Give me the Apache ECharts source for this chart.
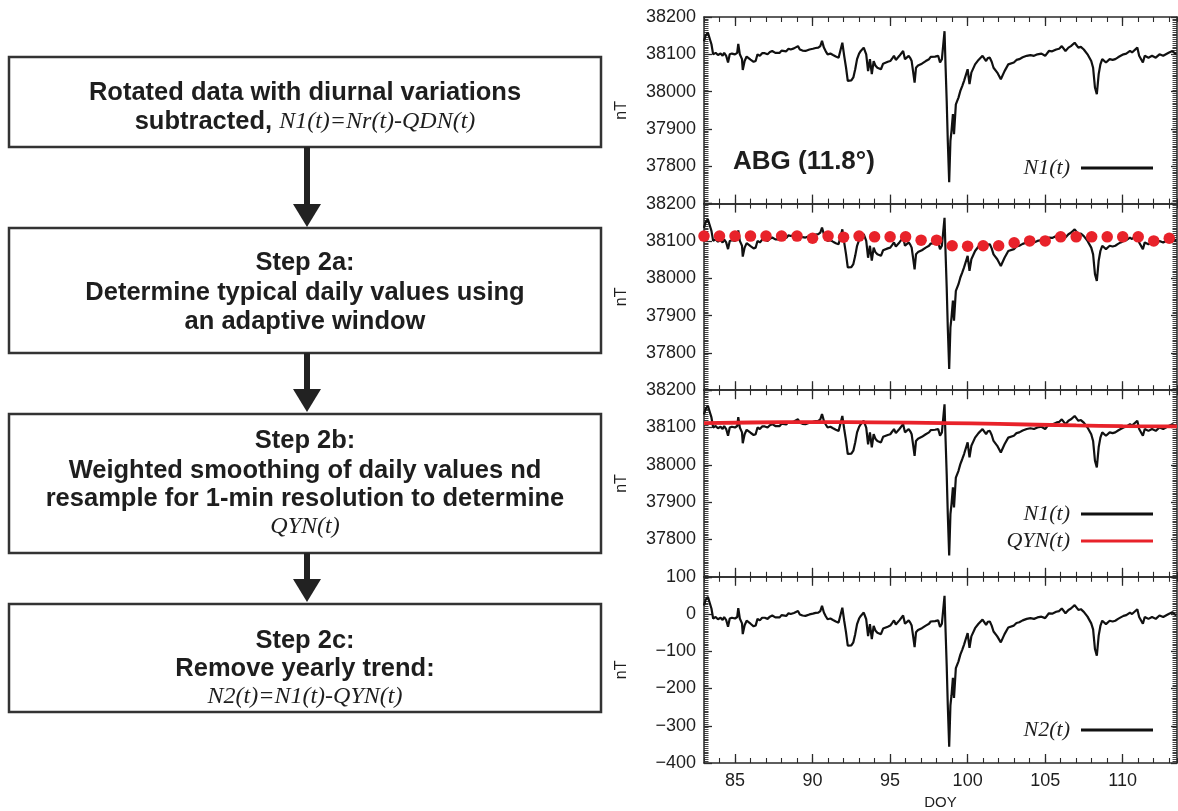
<!DOCTYPE html>
<html><head><meta charset="utf-8">
<script src="https://cdn.jsdelivr.net/npm/echarts@6/dist/echarts.min.js"></script>
<style>html,body{margin:0;padding:0;background:#fff}#c{width:1178px;height:811px}</style>
</head><body><div id="c"></div><script>
// ---------- data ----------
const doy = [83.00,83.10,83.17,83.25,83.36,83.48,83.59,83.75,83.90,84.07,84.20,84.30,84.43,84.55,84.66,84.80,85.00,85.14,85.21,85.31,85.45,85.50,85.62,85.75,85.85,86.00,86.09,86.20,86.33,86.45,86.60,86.75,86.92,87.10,87.25,87.40,87.60,87.88,88.00,88.11,88.30,88.45,88.59,88.80,89.06,89.18,89.35,89.54,89.80,90.02,90.20,90.37,90.50,90.61,90.73,90.85,90.97,91.15,91.32,91.50,91.68,91.80,91.92,92.04,92.16,92.27,92.39,92.50,92.63,92.75,92.87,93.00,93.11,93.30,93.46,93.58,93.70,93.82,93.94,94.05,94.18,94.30,94.41,94.55,94.65,94.85,95.01,95.15,95.25,95.37,95.49,95.60,95.72,95.84,95.96,96.08,96.20,96.30,96.39,96.48,96.58,96.67,96.80,96.91,97.05,97.15,97.30,97.51,97.62,97.74,97.90,98.10,98.22,98.34,98.46,98.51,98.58,98.65,98.72,98.81,98.89,98.96,99.05,99.12,99.24,99.41,99.53,99.65,99.77,100.00,100.12,100.24,100.48,100.70,100.96,101.19,101.30,101.43,101.55,101.67,101.91,102.14,102.38,102.62,102.98,103.15,103.33,103.55,103.81,104.05,104.28,104.50,104.76,105.00,105.24,105.45,105.71,105.90,106.07,106.31,106.50,106.66,106.90,107.14,107.30,107.49,107.73,107.97,108.09,108.21,108.33,108.45,108.56,108.68,108.80,108.92,109.16,109.35,109.52,109.70,109.87,110.05,110.23,110.47,110.60,110.71,110.94,111.06,111.30,111.42,111.66,111.89,112.13,112.37,112.61,112.96,113.20,113.44];
const n1 = [38135,38150,38145,38158,38162,38127,38100,38104,38098,38102,38096,38104,38096,38078,38100,38102,38100,38104,38128,38100,38087,38058,38082,38094,38091,38086,38087,38080,38082,38100,38096,38103,38103,38100,38106,38109,38104,38104,38110,38112,38108,38115,38113,38116,38122,38113,38110,38109,38113,38115,38117,38118,38122,38136,38118,38108,38100,38102,38098,38094,38091,38087,38131,38096,38064,38029,38024,38030,38038,38060,38087,38102,38109,38118,38100,38055,38087,38047,38082,38070,38064,38068,38060,38075,38078,38080,38082,38090,38096,38085,38087,38096,38100,38109,38087,38092,38096,38090,38082,38055,38024,38064,38070,38073,38075,38078,38082,38087,38093,38096,38094,38096,38078,38087,38082,38162,38064,37975,37868,37757,37868,37895,37940,37886,37966,37984,38002,38015,38029,38060,38020,38051,38073,38085,38096,38082,38090,38091,38080,38064,38051,38033,38055,38073,38078,38085,38087,38092,38096,38098,38096,38100,38102,38096,38109,38108,38113,38115,38122,38109,38118,38122,38131,38118,38120,38113,38100,38082,38064,38011,37993,38047,38073,38087,38082,38078,38087,38085,38087,38092,38096,38100,38102,38109,38105,38102,38118,38096,38078,38096,38091,38096,38091,38100,38096,38104,38109,38100];
const n2 = [23,38,33,46,50,15,-12,-8,-14,-10,-16,-8,-16,-34,-12,-10,-12,-8,16,-12,-25,-54,-30,-18,-21,-26,-26,-33,-31,-13,-17,-10,-10,-13,-7,-4,-9,-9,-3,-1,-5,2,0,3,8,-1,-4,-5,-1,1,3,4,8,22,4,-6,-14,-12,-16,-20,-23,-27,17,-18,-50,-85,-90,-84,-76,-54,-27,-12,-5,4,-14,-59,-27,-67,-32,-44,-50,-46,-54,-39,-36,-34,-31,-23,-17,-28,-26,-17,-13,-4,-26,-21,-17,-23,-31,-58,-89,-49,-43,-40,-38,-35,-31,-26,-20,-17,-19,-17,-35,-26,-31,49,-49,-138,-245,-356,-245,-218,-171,-225,-145,-127,-109,-96,-82,-51,-91,-60,-38,-26,-15,-29,-21,-20,-31,-47,-60,-76,-54,-36,-31,-24,-22,-17,-13,-11,-13,-9,-7,-11,2,1,6,8,15,2,11,15,24,11,13,6,-7,-25,-41,-94,-112,-58,-32,-18,-23,-27,-18,-20,-18,-13,-9,-5,-3,4,0,-3,13,-8,-26,-8,-13,-8,-13,-4,-8,0,5,-4];
const dailyDoy = [83,84,85,86,87,88,89,90,91,92,93,94,95,96,97,98,99,100,101,102,103,104,105,106,107,108,109,110,111,112,113];
const dailyVal = [38113,38113,38113,38113,38113,38113,38113,38107,38113,38110,38113,38111,38111,38111,38102,38102,38087,38086,38087,38087,38095,38100,38100,38111,38111,38111,38111,38111,38111,38100,38107];
const qynDoy = [83,86,90.5,94,98.5,102,107,110,113.5];
const qynVal = [38112,38113.5,38114.5,38114,38112,38109.5,38105.5,38104,38103];
const xMajorTicks = [85,90,95,100,105,110];
const yRanges = [[37700,38200],[37700,38200],[37700,38200],[-400,100]];

// ---------- build ----------
const pairs = (xs, ys) => xs.map((x, i) => [x, ys[i]]);
const SANS = '"Liberation Sans", Arial, sans-serif';
const SERIF = '"Liberation Serif", "Times New Roman", serif';
const INK = '#1e1e1e';
const AX = '#2a2a2a';
const RED = '#e8222a';
const gridTops = [17, 203.6, 390.2, 576.8];
const gridH = 186.6;

const grid = gridTops.map(t => ({left: 704, right: 1, top: t, height: gridH}));
const xAxis = [];
gridTops.forEach((t, i) => {
  const last = i === 3;
  ['bottom', 'top'].forEach(pos => {
    xAxis.push({
      type: 'value', gridIndex: i, position: pos, min: 83, max: 113.5,
      axisLine: {show: true, onZero: false, lineStyle: {color: AX, width: 1.5}},
      axisTick: {show: true, inside: true, length: 9, customValues: xMajorTicks, lineStyle: {color: AX, width: 1.3}},
      axisLabel: {show: last && pos === 'bottom', customValues: xMajorTicks, margin: 9,
        fontFamily: SANS, fontSize: 18, color: INK},
      splitLine: {show: false},
      name: (last && pos === 'bottom') ? 'DOY' : '', nameLocation: 'middle', nameGap: 32,
      nameTextStyle: {fontFamily: SANS, fontSize: 15, color: INK}
    });
    xAxis.push({
      type: 'value', gridIndex: i, position: pos, min: 83, max: 113.5, interval: 1,
      axisLine: {show: false, onZero: false},
      axisTick: {show: true, inside: true, length: 5, lineStyle: {color: AX, width: 1.1}},
      axisLabel: {show: false}, splitLine: {show: false}
    });
  });
});
const yAxis = [];
yRanges.forEach((r, i) => {
  ['left', 'right'].forEach(pos => {
    yAxis.push({
      type: 'value', gridIndex: i, position: pos, min: r[0], max: r[1], interval: 100,
      axisLine: {show: true, onZero: false, lineStyle: {color: AX, width: 1.5}},
      axisTick: {show: true, inside: true, length: pos === 'left' ? 8 : 6, lineStyle: {color: AX, width: 1.3}},
      minorTick: {show: true, splitNumber: 20, length: 4.5, lineStyle: {color: AX, width: 0.9}},
      axisLabel: {show: pos === 'left', margin: 8, fontFamily: SANS, fontSize: 18, color: INK,
        formatter: v => (i < 3 && v === r[0]) ? '' : String(v).replace('-', '\u2212')},
      splitLine: {show: false},
      name: pos === 'left' ? 'nT' : '', nameLocation: 'middle', nameGap: 74,
      nameTextStyle: {fontFamily: SANS, fontSize: 16, color: INK}
    });
  });
});

const lineBase = {type: 'line', showSymbol: false, symbol: 'none', animation: false, sampling: false,
  lineStyle: {color: '#111', width: 2.2}, itemStyle: {color: '#111'}, z: 2};
const series = [
  Object.assign({}, lineBase, {name: 'N1(t)', xAxisIndex: 0, yAxisIndex: 0, data: pairs(doy, n1)}),
  Object.assign({}, lineBase, {name: 'N1(t)', xAxisIndex: 4, yAxisIndex: 2, data: pairs(doy, n1)}),
  {type: 'scatter', name: 'daily', xAxisIndex: 4, yAxisIndex: 2, data: pairs(dailyDoy, dailyVal),
    symbolSize: 11.5, itemStyle: {color: RED, opacity: 1}, animation: false, z: 3},
  Object.assign({}, lineBase, {name: 'N1(t)', xAxisIndex: 8, yAxisIndex: 4, data: pairs(doy, n1)}),
  {type: 'line', name: 'QYN(t)', xAxisIndex: 8, yAxisIndex: 4, data: pairs(qynDoy, qynVal), smooth: true,
    showSymbol: false, symbol: 'none', animation: false, lineStyle: {color: RED, width: 3.8}, itemStyle: {color: RED}, z: 3},
  Object.assign({}, lineBase, {name: 'N2(t)', xAxisIndex: 12, yAxisIndex: 6, data: pairs(doy, n2)})
];

const legBase = {orient: 'vertical', align: 'right', right: 25, padding: 0, icon: 'rect', itemWidth: 72, itemHeight: 3,
  itemGap: 5, selectedMode: false,
  textStyle: {fontFamily: SERIF, fontStyle: 'italic', fontSize: 22, color: INK, padding: [0, 6, 0, 0]}};
const legend = [
  Object.assign({}, legBase, {data: ['N1(t)'], top: 157}),
  Object.assign({}, legBase, {data: ['N1(t)', 'QYN(t)'], top: 503}),
  Object.assign({}, legBase, {data: ['N2(t)'], top: 719})
];

// flowchart
const BOLD = 'bold 25.5px ' + SANS;
const IT = 'italic 24px ' + SERIF;
function box(y, h) { return {type: 'rect', shape: {x: 9, y: y, width: 592, height: h},
  style: {fill: '#fff', stroke: '#333', lineWidth: 2.5}}; }
function arrow(y0, tip) { return [
  {type: 'line', shape: {x1: 307, y1: y0, x2: 307, y2: tip - 20}, style: {stroke: '#222', lineWidth: 6}},
  {type: 'polygon', shape: {points: [[293, tip - 23], [321, tip - 23], [307, tip]]}, style: {fill: '#222'}}]; }
function txt(y, s, font) { return {type: 'text', x: 305, y: y,
  style: {text: s, font: font || BOLD, fill: INK, align: 'center', verticalAlign: 'middle'}}; }
const graphic = [
  box(57, 90), box(228, 125), box(414, 139), box(604, 108),
  ...arrow(147, 227), ...arrow(353, 412), ...arrow(553, 602),
  txt(93, 'Rotated data with diurnal variations'),
  {type: 'text', x: 305, y: 122, style: {text: '{b|subtracted, }{i|N1(t)=Nr(t)-QDN(t)}',
    rich: {b: {font: BOLD, fill: INK}, i: {font: IT, fill: INK}}, align: 'center', verticalAlign: 'middle'}},
  txt(263, 'Step 2a:'), txt(293, 'Determine typical daily values using'), txt(322, 'an adaptive window'),
  txt(441, 'Step 2b:'), txt(471, 'Weighted smoothing of daily values nd'),
  txt(499, 'resample for 1-min resolution to determine'), txt(527, 'QYN(t)', IT),
  txt(641, 'Step 2c:'), txt(669, 'Remove yearly trend:'), txt(697, 'N2(t)=N1(t)-QYN(t)', IT),
  {type: 'text', x: 733, y: 162, style: {text: 'ABG (11.8°)', font: 'bold 26px ' + SANS, fill: INK,
    align: 'left', verticalAlign: 'middle'}}
];

const chart = echarts.init(document.getElementById('c'), null, {renderer: 'canvas'});
chart.setOption({backgroundColor: '#fff', animation: false, grid, xAxis, yAxis, series, legend, graphic});
</script></body></html>
